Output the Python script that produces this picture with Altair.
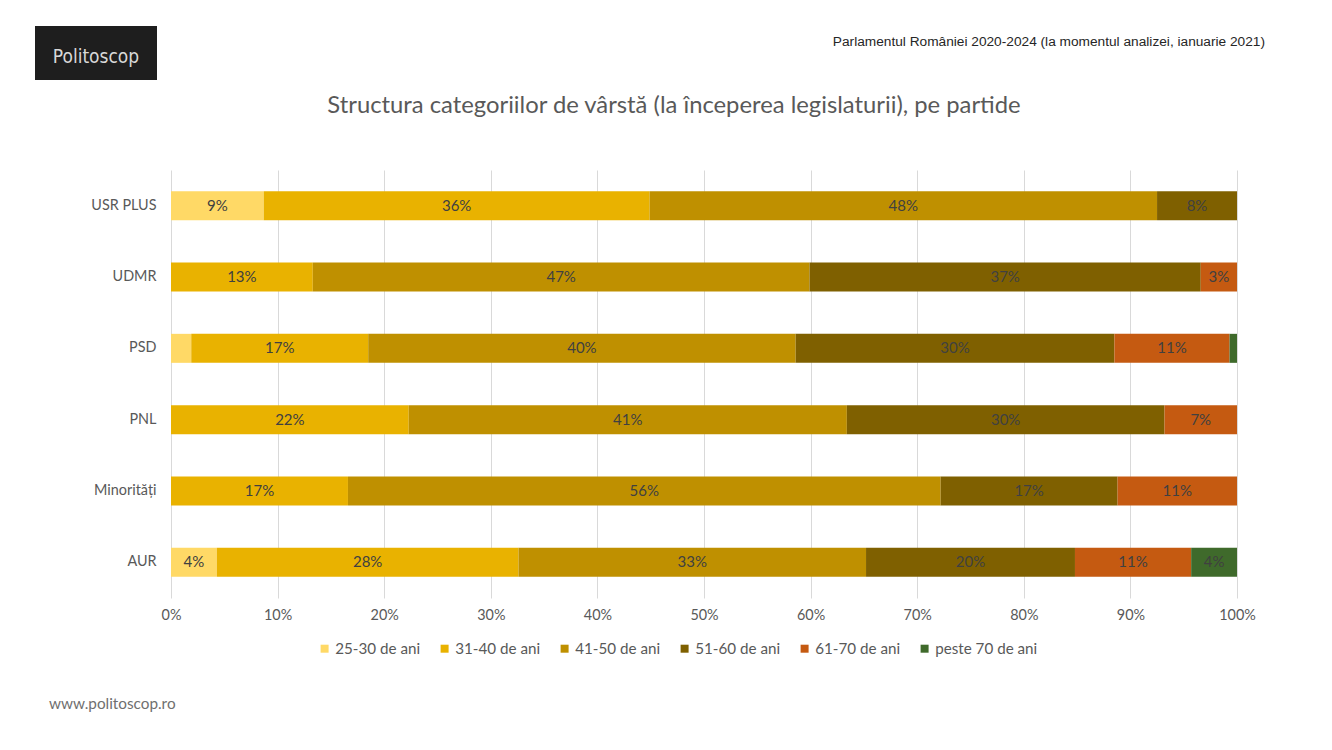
import altair as alt
import pandas as pd

parties = ["USR PLUS", "UDMR", "PSD", "PNL", "Minorități", "AUR"]
groups = ["25-30 de ani", "31-40 de ani", "41-50 de ani", "51-60 de ani", "61-70 de ani", "peste 70 de ani"]
colors = ["#FFD966", "#E9B200", "#BF9000", "#7F6000", "#C55A11", "#3F6A2B"]

# percent per age group, one list per party (order of `groups`)
usr_plus = [8.7, 36.2, 47.6, 7.5, 0.0, 0.0]
udmr = [0.0, 13.3, 46.6, 36.7, 3.4, 0.0]
psd = [1.9, 16.6, 40.1, 29.9, 10.8, 0.7]
pnl = [0.0, 22.3, 41.1, 29.8, 6.8, 0.0]
minoritati = [0.0, 16.6, 55.6, 16.6, 11.2, 0.0]
aur = [4.3, 28.3, 32.6, 19.6, 10.9, 4.3]

title_text = "Structura categoriilor de vârstă (la începerea legislaturii), pe partide"
subtitle_text = "Parlamentul României 2020-2024 (la momentul analizei, ianuarie 2021)"
site_text = "www.politoscop.ro"

series = [usr_plus, udmr, psd, pnl, minoritati, aur]
rows = []
for p, vals in zip(parties, series):
    for i, (g, v) in enumerate(zip(groups, vals)):
        rows.append({"party": p, "group": g, "order": i, "value": v})
df = pd.DataFrame(rows)

FONT = "Lato"

base = alt.Chart(df).transform_stack(
    stack="value", groupby=["party"], sort=[alt.SortField("order")],
    as_=["x0", "x1"], offset="normalize"
).transform_calculate(
    mid="(datum.x0 + datum.x1) / 2",
    label="format(datum.value / 100, '.0%')"
)

y_enc = alt.Y("party:N", sort=parties, title=None,
              scale=alt.Scale(paddingInner=0.59, paddingOuter=0.295),
              axis=alt.Axis(domain=False, ticks=False, labelPadding=15,
                            labelFontSize=14.4, labelColor="#595959", labelFont=FONT))

bars = base.mark_bar(size=29).encode(
    x=alt.X("x0:Q", title=None, scale=alt.Scale(domain=[0, 1]),
            axis=alt.Axis(values=[i / 10 for i in range(11)], format=".0%",
                          domain=False, ticks=False, grid=True, gridColor="#D9D9D9",
                          labelFlush=False,
                          labelPadding=10, labelFontSize=14.4, labelColor="#595959",
                          labelFont=FONT)),
    x2="x1:Q",
    y=y_enc,
    color=alt.Color("group:N", sort=groups,
                    scale=alt.Scale(domain=groups, range=colors),
                    legend=alt.Legend(title=None, orient="none", legendX=146, legendY=471,
                                      direction="horizontal", columns=6, columnPadding=16,
                                      symbolType="square", symbolSize=64, symbolStrokeWidth=0,
                                      labelFontSize=15.2, labelColor="#595959", labelFont=FONT,
                                      labelOffset=3, labelLimit=200)),
    order=alt.Order("order:Q"),
)

labels = base.transform_filter("datum.value >= 2.5").mark_text(
    fontSize=15, color="#404040", font=FONT
).encode(
    x="mid:Q",
    y=alt.Y("party:N", sort=parties),
    text="label:N",
)

title = alt.Chart(pd.DataFrame({"t": [title_text]})).mark_text(
    font=FONT, fontSize=23.8, color="#595959", align="center", baseline="middle"
).encode(x=alt.value(503), y=alt.value(-64), text="t:N")

topright = alt.Chart(pd.DataFrame({"t": [subtitle_text]})).mark_text(
    font="Liberation Sans", fontSize=13.7, color="#262626", align="right", baseline="middle"
).encode(x=alt.value(1094), y=alt.value(-128), text="t:N")

site = alt.Chart(pd.DataFrame({"t": [site_text]})).mark_text(
    font=FONT, fontSize=15.3, color="#6F6F6F", align="left", baseline="middle"
).encode(x=alt.value(-122), y=alt.value(534), text="t:N")

logo_bg = alt.Chart(pd.DataFrame({"t": ["logo"]})).mark_rect(color="#1E1E1E").encode(
    x=alt.value(-136), x2=alt.value(-14), y=alt.value(-144), y2=alt.value(-90)
)
logo_txt = alt.Chart(pd.DataFrame({"t": ["Politoscop"]})).mark_text(
    font="DejaVu Sans Condensed", fontSize=19, color="#D8D8D8", align="center", baseline="middle"
).encode(x=alt.value(-75), y=alt.value(-113), text="t:N")

chart = alt.layer(bars, labels, title, topright, site, logo_bg, logo_txt).properties(
    width=1066, height=428,
    autosize=alt.AutoSizeParams(type="none"),
    padding={"left": 163, "top": 162, "right": 87, "bottom": 144},
).configure(background="white", view=alt.ViewConfig(stroke=None))

chart.save("out.html", embed_options={"renderer": "svg", "actions": False})
